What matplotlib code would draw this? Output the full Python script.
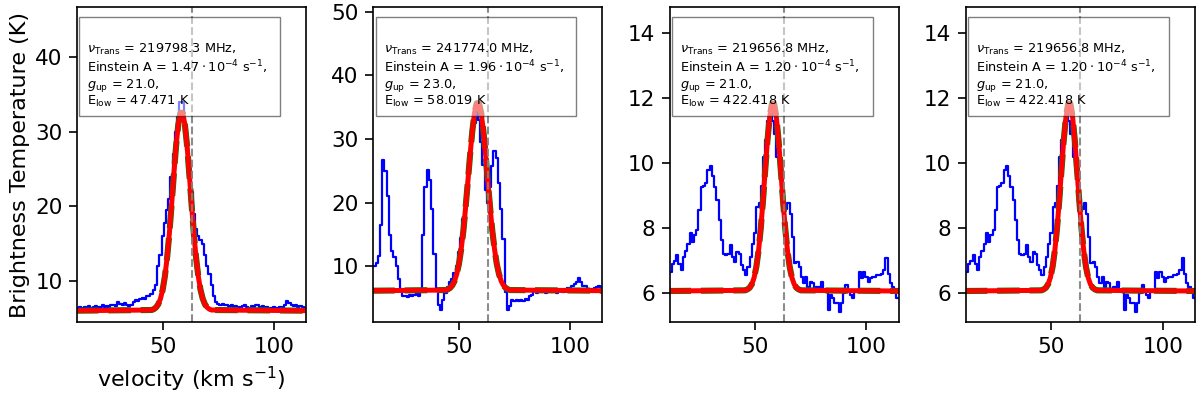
import numpy as np
import matplotlib
matplotlib.use("Agg")
import matplotlib.pyplot as plt
from matplotlib.patches import Rectangle

# channel velocities (km/s)
vel = np.arange(12, 115, 1.0)

# observed spectra (K)
spec_1 = [6.5, 6.6, 6.5, 6.6, 6.5, 6.7, 6.5, 6.6, 6.7, 6.5,
          6.6, 6.8, 6.6, 6.7, 6.6, 6.8, 6.9, 6.7, 7.2, 7.0,
          6.9, 7.1, 6.8, 6.7, 6.9, 7.3, 7.5, 7.4, 7.6, 7.8,
          7.7, 8.0, 8.0, 8.3, 8.8, 9.5, 12.0, 13.5, 16.0, 17.8,
          19.5, 21.0, 24.0, 27.0, 30.0, 32.0, 34.0, 34.0, 30.0, 27.5,
          25.0, 22.0, 19.0, 17.0, 16.0, 15.5, 15.0, 13.5, 12.0, 11.0,
          9.5, 8.0, 7.2, 7.0, 6.9, 7.0, 6.8, 6.9, 6.7, 6.8,
          6.6, 6.7, 6.5, 6.6, 6.7, 6.9, 6.6, 6.5, 6.7, 6.6,
          6.8, 6.9, 6.6, 6.7, 6.5, 6.6, 6.4, 6.5, 6.6, 6.5,
          6.4, 6.6, 6.5, 6.9, 7.4, 7.1, 6.9, 6.7, 6.8, 6.6,
          6.7, 6.6, 6.5]

spec_2 = [10.0, 10.5, 11.6, 16.5, 26.7, 25.0, 21.0, 15.0, 12.5, 11.5,
          10.0, 8.0, 6.4, 5.4, 5.3, 5.2, 5.6, 5.3, 5.5, 5.8,
          5.4, 6.5, 15.0, 22.5, 25.1, 23.6, 19.0, 12.0, 6.5, 4.0,
          3.2, 4.8, 5.9, 6.8, 7.5, 8.0, 9.0, 10.0, 12.2, 14.5,
          17.5, 20.5, 23.5, 27.0, 30.0, 32.5, 34.5, 33.0, 29.5, 26.0,
          22.0, 20.0, 22.5, 25.7, 28.1, 27.0, 23.1, 19.0, 14.3, 6.0,
          3.2, 3.8, 4.8, 4.6, 4.7, 4.6, 4.8, 4.6, 4.9, 4.7,
          5.3, 5.6, 6.1, 5.9, 6.1, 6.0, 6.2, 5.9, 6.0, 6.2,
          6.0, 6.1, 5.9, 6.1, 6.2, 6.0, 6.4, 6.7, 6.6, 7.0,
          7.3, 7.6, 8.2, 7.6, 7.0, 6.9, 6.5, 6.4, 6.5, 6.6,
          6.8, 6.9, 6.8]

spec_3 = [6.66, 6.9, 7.0, 7.18, 6.9, 6.7, 7.1, 7.3, 7.5, 7.84,
          7.58, 7.79, 7.94, 8.56, 9.27, 9.3, 9.4, 9.78, 9.91, 9.6,
          9.27, 8.86, 8.25, 7.63, 7.22, 7.17, 7.2, 7.48, 7.12, 6.95,
          7.28, 7.2, 6.87, 6.7, 6.55, 6.82, 7.12, 7.5, 7.84, 8.66,
          8.76, 9.3, 10.2, 10.7, 11.3, 11.6, 11.3, 10.9, 10.2, 9.9,
          9.3, 8.66, 8.6, 8.76, 8.45, 7.74, 6.92, 6.97, 6.82, 6.51,
          6.31, 6.51, 6.2, 6.36, 6.31, 6.1, 6.2, 6.2, 6.36, 6.1,
          6.1, 5.49, 5.95, 5.85, 5.7, 5.7, 5.44, 5.7, 6.0, 6.25,
          6.1, 5.95, 5.85, 6.1, 6.1, 6.66, 6.46, 6.66, 6.5, 6.36,
          6.46, 6.5, 6.51, 6.56, 6.56, 6.6, 6.7, 7.07, 6.6, 6.31,
          6.2, 6.1, 5.85]

# fitted line profiles
fit_v1 = [11, 45, 46, 47, 48, 49, 50, 51, 52, 53, 54, 55, 56, 57, 58, 59, 60,
          61, 62, 63, 64, 65, 66, 67, 68, 69, 70, 71, 72, 115]
fit_1 = [6.1, 6.19, 6.30, 6.53, 6.95, 7.7, 8.9, 10.7, 13.2, 16.4, 20.2, 24.2,
         28.0, 30.9, 32.5, 32.5, 30.9, 28.0, 24.2, 20.2, 16.4, 13.2, 10.7,
         8.9, 7.7, 6.95, 6.53, 6.30, 6.19, 6.1]

fit_v2 = [11, 44, 45, 46, 47, 48, 49, 50, 51, 52, 53, 54, 55, 56, 57, 58, 59,
          60, 61, 62, 63, 64, 65, 66, 67, 68, 69, 70, 71, 72, 73, 115]
fit_2 = [6.2, 6.30, 6.41, 6.63, 7.03, 7.7, 8.8, 10.4, 12.7, 15.6, 19.3, 23.3,
         27.5, 31.2, 34.1, 35.6, 35.6, 34.1, 31.2, 27.5, 23.3, 19.3, 15.6,
         12.7, 10.4, 8.8, 7.7, 7.03, 6.63, 6.41, 6.30, 6.2]

fit_v3 = [11, 45.5, 46.5, 47.5, 48.5, 49.5, 50.5, 51.5, 52.5, 53.5, 54.5, 55.5,
          56.5, 57.5, 58.5, 59.5, 60.5, 61.5, 62.5, 63.5, 64.5, 65.5, 66.5,
          67.5, 68.5, 69.5, 70.5, 115]
fit_3 = [6.07, 6.09, 6.12, 6.17, 6.28, 6.48, 6.81, 7.31, 7.99, 8.84, 9.78,
         10.69, 11.41, 11.82, 11.82, 11.41, 10.69, 9.78, 8.84, 7.99, 7.31,
         6.81, 6.48, 6.28, 6.17, 6.12, 6.09, 6.07]

nu_trans = ["219798.3", "241774.0", "219656.8", "219656.8"]
einstein_a = ["1.47", "1.96", "1.20", "1.20"]
g_up = ["21.0", "23.0", "21.0", "21.0"]
e_low = ["47.471", "58.019", "422.418", "422.418"]

spectra = [spec_1, spec_2, spec_3, spec_3]
fits = [(fit_v1, fit_1), (fit_v2, fit_2), (fit_v3, fit_3), (fit_v3, fit_3)]
ylims = [(4.6, 46.6), (1.3, 50.7), (5.12, 14.79), (5.12, 14.79)]
v_sys = 63.0

fig, axes = plt.subplots(1, 4, figsize=(12, 3.95), dpi=100)
plt.subplots_adjust(left=0.0642, right=0.9958, bottom=0.185, top=0.982, wspace=0.293)

for i, ax in enumerate(axes):
    ax.plot(vel, spectra[i], color='blue', lw=1.6, drawstyle='steps-mid')
    fv, ft = fits[i]
    ax.plot(fv, ft, color='green', ls='--', lw=4.4)
    ax.plot(fv, ft, color='red', lw=3.6)
    ax.axvline(v_sys, color='grey', ls='--', lw=1.5, alpha=0.9)
    ax.set_xlim(11.5, 114.5)
    ax.set_ylim(*ylims[i])
    ax.set_xticks([50, 100])
    ax.tick_params(labelsize=15.5, width=1.2, length=5.5, pad=5)
    for s in ax.spines.values():
        s.set_linewidth(1.2)

    txt = (r"$\nu_{\rm Trans}$ = " + nu_trans[i] + " MHz,\n"
           + r"Einstein A = $" + einstein_a[i] + r"\cdot10^{-4}$ s$^{-1}$," + "\n"
           + r"$g_{\rm up}$ = " + g_up[i] + ",\n"
           + r"E$_{\rm low}$ = " + e_low[i] + " K")
    ax.add_patch(Rectangle((0.010, 0.654), 0.876, 0.313, transform=ax.transAxes,
                           facecolor='white', edgecolor='black', lw=1.0,
                           alpha=0.5, zorder=9))
    ax.text(0.045, 0.888, txt, transform=ax.transAxes, fontsize=9.3,
            va='top', ha='left', zorder=10, linespacing=1.06)

axes[0].set_ylabel('Brightness Temperature (K)', fontsize=16)
axes[0].set_xlabel(r'velocity (km s$^{-1}$)', fontsize=16, labelpad=6)

plt.savefig('out.png')
